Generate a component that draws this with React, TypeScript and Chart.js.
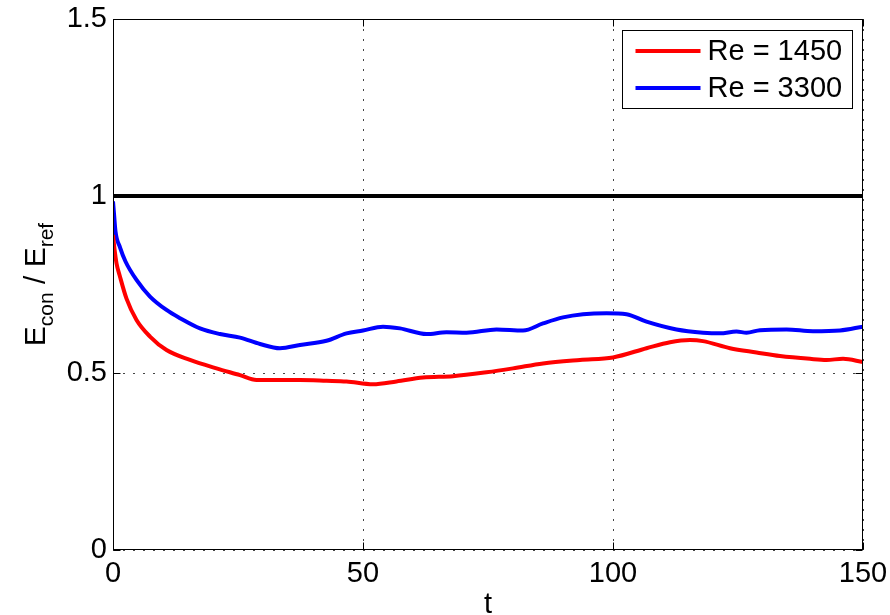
import React, { useEffect, useRef } from 'react';
import { Chart, registerables } from 'chart.js';

Chart.register(...registerables);

// ---- data ----
const xTickValues = [0, 50, 100, 150];
const yTickValues = [0, 0.5, 1, 1.5];
const yTickLabels = ['0', '0.5', '1', '1.5'];
const xTickLabels = ['0', '50', '100', '150'];
const seriesLabels = ['Re = 1450', 'Re = 3300'];

const tRed = [0, 0.3, 0.7, 1.4, 2.7, 4.7, 7.4, 10.7, 15.4, 20.7, 25.4, 28.7, 32, 37.4, 42.7, 46.7, 52, 56.7, 62, 68, 74.7, 80, 86, 93.4, 100, 106.7, 111.4, 115.4, 118, 123.4, 128.7, 133.4, 139.4, 142.7, 146, 150];
const vRed = [0.89, 0.85, 0.81, 0.772, 0.71, 0.65, 0.603, 0.565, 0.537, 0.513, 0.494, 0.48, 0.48, 0.48, 0.478, 0.476, 0.468, 0.476, 0.487, 0.491, 0.502, 0.513, 0.527, 0.537, 0.544, 0.57, 0.587, 0.593, 0.59, 0.57, 0.558, 0.548, 0.54, 0.537, 0.54, 0.531];

const tBlue = [0, 0.2, 0.5, 1.4, 2.5, 4.7, 7.4, 10.7, 13.4, 17.4, 21.4, 25.4, 29.4, 33.4, 37.4, 42.7, 46.7, 50, 54, 57.4, 62.7, 66.7, 70.7, 76.7, 82, 86, 90, 94, 98.7, 102.7, 106.7, 112.7, 118, 121.4, 124.7, 126.7, 129.4, 134.7, 140, 145.4, 150];
const vBlue = [0.985, 0.95, 0.9, 0.855, 0.815, 0.763, 0.716, 0.678, 0.655, 0.626, 0.61, 0.6, 0.582, 0.57, 0.579, 0.591, 0.612, 0.62, 0.631, 0.626, 0.61, 0.615, 0.614, 0.623, 0.62, 0.64, 0.657, 0.666, 0.669, 0.666, 0.645, 0.623, 0.614, 0.612, 0.617, 0.614, 0.621, 0.623, 0.618, 0.62, 0.631];

const tRef = [0, 150];
const vRef = [1, 1];

const FONT = '"Liberation Sans", Arial, Helvetica, sans-serif';
const FS = 29;

const matlabPlugin = {
  id: 'matlabDecor',
  afterDatasetsDraw(chart: any) {
    const { ctx, chartArea: a, scales } = chart;
    const xs = scales.x;
    const ys = scales.y;
    ctx.save();
    // frame
    ctx.strokeStyle = '#000';
    ctx.lineWidth = 1;
    const L = Math.round(a.left) + 0.5;
    const R = Math.round(a.right) - 0.5;
    const T = Math.round(a.top) + 0.5;
    const B = Math.round(a.bottom) - 0.5;
    ctx.strokeRect(L, T, R - L, B - T);
    // inward ticks
    const tl = 7;
    ctx.beginPath();
    xTickValues.forEach((v) => {
      const px = Math.round(xs.getPixelForValue(v)) + 0.5;
      ctx.moveTo(px, B); ctx.lineTo(px, B - tl);
      ctx.moveTo(px, T); ctx.lineTo(px, T + tl);
    });
    yTickValues.forEach((v) => {
      const py = Math.round(ys.getPixelForValue(v)) + 0.5;
      ctx.moveTo(L, py); ctx.lineTo(L + tl, py);
      ctx.moveTo(R, py); ctx.lineTo(R - tl, py);
    });
    ctx.stroke();

    // legend
    const bw = 230, bh = 78;
    const bx = Math.round(a.right) - 11 - bw + 0.5;
    const by = Math.round(a.top) + 11 + 0.5;
    ctx.fillStyle = '#fff';
    ctx.fillRect(bx, by, bw, bh);
    ctx.strokeStyle = '#000';
    ctx.lineWidth = 1;
    ctx.strokeRect(bx, by, bw, bh);
    const colors = ['#ff0000', '#0000ff'];
    const rows = [by + 20.5, by + 57.5];
    ctx.font = `${FS}px ${FONT}`;
    ctx.textBaseline = 'middle';
    ctx.textAlign = 'left';
    seriesLabels.forEach((lab, i) => {
      ctx.strokeStyle = colors[i];
      ctx.lineWidth = 4;
      ctx.beginPath();
      ctx.moveTo(bx + 13, rows[i]);
      ctx.lineTo(bx + 78, rows[i]);
      ctx.stroke();
      ctx.fillStyle = '#000';
      ctx.fillText(lab, bx + 85, rows[i] + 1);
    });

    // y-axis title with subscripts
    ctx.save();
    const cy = (a.top + a.bottom) / 2;
    ctx.translate(35, cy);
    ctx.rotate(-Math.PI / 2);
    const big = `30px ${FONT}`;
    const small = `21px ${FONT}`;
    const parts: [string, string, number][] = [
      ['E', big, 0], ['con', small, 8], [' / E', big, 0], ['ref', small, 8],
    ];
    let total = 0;
    parts.forEach(([s, f]) => { ctx.font = f; total += ctx.measureText(s).width; });
    let x = -total / 2;
    ctx.textBaseline = 'alphabetic';
    ctx.fillStyle = '#000';
    parts.forEach(([s, f, dy]) => {
      ctx.font = f;
      ctx.fillText(s, x, 10 + dy);
      x += ctx.measureText(s).width;
    });
    ctx.restore();
    ctx.restore();
  },
};

export default function App() {
  const ref = useRef<HTMLCanvasElement | null>(null);
  useEffect(() => {
    document.body.style.margin = '0';
    const canvas = ref.current!;
    const chart = new Chart(canvas, {
      type: 'line',
      data: {
        datasets: [
          {
            label: seriesLabels[0],
            data: tRed.map((t, i) => ({ x: t, y: vRed[i] })),
            borderColor: '#ff0000',
            borderWidth: 4,
            pointRadius: 0,
            cubicInterpolationMode: 'monotone',
            fill: false,
          },
          {
            label: seriesLabels[1],
            data: tBlue.map((t, i) => ({ x: t, y: vBlue[i] })),
            borderColor: '#0000ff',
            borderWidth: 4,
            pointRadius: 0,
            cubicInterpolationMode: 'monotone',
            fill: false,
          },
          {
            label: 'ref',
            data: tRef.map((t, i) => ({ x: t, y: vRef[i] })),
            borderColor: '#000000',
            borderWidth: 4,
            pointRadius: 0,
            fill: false,
          },
        ],
      },
      options: {
        animation: false,
        responsive: false,
        maintainAspectRatio: false,
        layout: { padding: { top: 19, right: 27, left: 0, bottom: 0 } },
        plugins: { legend: { display: false }, tooltip: { enabled: false } },
        scales: {
          x: {
            type: 'linear',
            min: 0,
            max: 150,
            afterBuildTicks: (s: any) => { s.ticks = xTickValues.map((v) => ({ value: v })); },
            afterFit: (s: any) => { s.height = 65; s.paddingRight = 0; s.paddingLeft = 0; },
            ticks: {
              autoSkip: false,
              maxRotation: 0,
              color: '#000',
              padding: 7,
              font: { family: FONT, size: FS },
              callback: (v: any) => xTickLabels[xTickValues.indexOf(Number(v))] ?? '',
            },
            grid: { color: '#444', lineWidth: 1, drawTicks: false },
            border: { display: false, dash: [2, 8] },
            title: { display: true, text: 't', color: '#000', font: { family: FONT, size: FS }, padding: { top: 0, bottom: -7 } },
          },
          y: {
            type: 'linear',
            min: 0,
            max: 1.5,
            afterBuildTicks: (s: any) => { s.ticks = yTickValues.map((v) => ({ value: v })); },
            afterFit: (s: any) => { s.width = 113; s.paddingTop = 0; s.paddingBottom = 0; },
            ticks: {
              autoSkip: false,
              color: '#000',
              padding: 6,
              font: { family: FONT, size: FS },
              callback: (v: any) => yTickLabels[yTickValues.indexOf(Number(v))] ?? '',
            },
            grid: { color: '#444', lineWidth: 1, drawTicks: false },
            border: { display: false, dash: [2, 8] },
          },
        },
      },
      plugins: [matlabPlugin],
    } as any);
    return () => chart.destroy();
  }, []);
  return (
    <div style={{ width: 890, height: 615, background: '#fff' }}>
      <canvas ref={ref} width={890} height={615} style={{ display: 'block' }} />
    </div>
  );
}
